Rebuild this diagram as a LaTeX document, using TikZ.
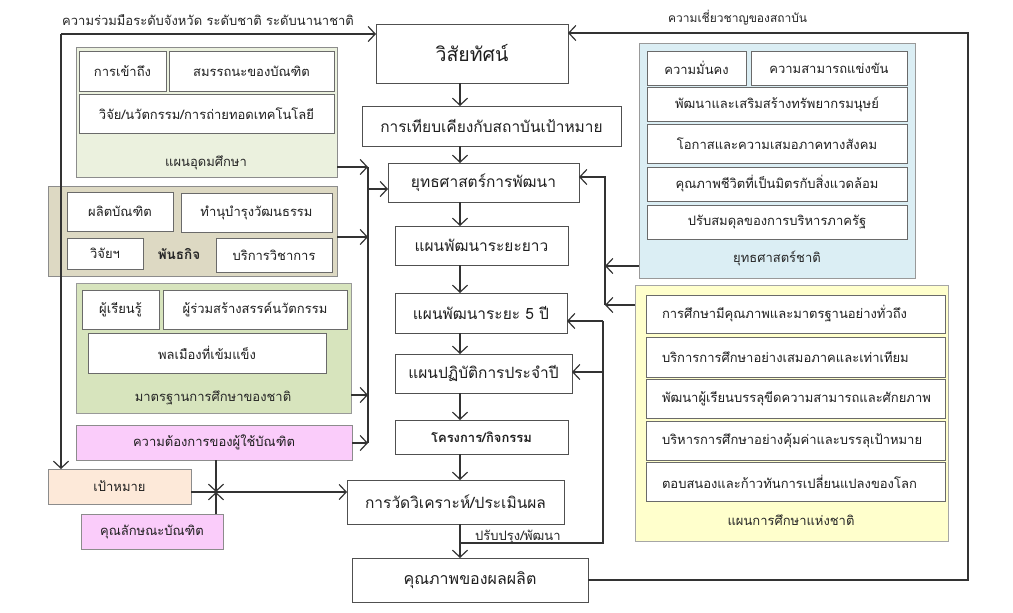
\documentclass[tikz,border=0pt]{standalone}
\usepackage{fontspec}
\setmainfont[Script=Thai]{Loma}
\usetikzlibrary{arrows.meta}
\newcommand\fsz[1]{\fontsize{#1}{#1}\selectfont}
\newcommand\bx[7]{\node[#2, minimum width={(#5-#3)*1pt}, minimum height={(#6-#4)*1pt}] (#1) at ({(#3+#5)/2},{(#4+#6)/2}) {#7};}
\definecolor{ln}{HTML}{333333}
\definecolor{mbd}{HTML}{505050}
\definecolor{gA}{HTML}{EBF1DE}
\definecolor{gB}{HTML}{DDD9C3}
\definecolor{gC}{HTML}{D7E4BD}
\definecolor{pk}{HTML}{FACCFA}
\definecolor{pc}{HTML}{FDE9D9}
\definecolor{bl}{HTML}{DBEEF4}
\definecolor{yl}{HTML}{FFFFCC}
\tikzset{
  base/.style={inner sep=0pt, outer sep=0pt, align=center, text=black!88},
  mbox/.style={base, draw=mbd, fill=white, line width=0.9pt, font=\fsz{15.5}},
  ibox/.style={base, draw=mbd!85, fill=white, line width=0.9pt, font=\fsz{13}},
  pbox/.style={ibox, text width=267pt, align=left, inner xsep=16pt},
  grp/.style={base, line width=1pt},
  glabel/.style={inner sep=0pt, font=\fsz{13}, text=black!85},
  line/.style={draw=ln, line width=1.3pt},
  arr/.style={line, -{Straight Barb[length=7pt,width=15pt,line width=1.2pt]}},
}
\begin{document}
\begin{tikzpicture}[x=1pt,y=-1pt]
\useasboundingbox[fill=white] (0,0) rectangle (1013,613);
% centre column
\bx{vision}{mbox,font=\fsz{19.5}}{376}{24}{568}{83}{วิสัยทัศน์}
\bx{bench}{mbox}{362}{106}{621}{146}{การเทียบเคียงกับสถาบันเป้าหมาย}
\bx{strat}{mbox}{388}{163}{579}{202}{ยุทธศาสตร์การพัฒนา}
\bx{longp}{mbox}{395}{226}{568}{265}{แผนพัฒนาระยะยาว}
\bx{fivep}{mbox}{395}{293}{567}{333}{แผนพัฒนาระยะ 5 ปี}
\bx{annual}{mbox}{395}{354}{572}{393}{แผนปฏิบัติการประจำปี}
\bx{proj}{mbox,font=\bfseries\fsz{13}}{395}{420}{568}{454}{โครงการ/กิจกรรม}
\bx{evalu}{mbox}{347}{480}{564}{524}{การวัดวิเคราะห์/ประเมินผล}
\bx{quality}{mbox,font=\fsz{16}}{352}{558}{588}{602}{คุณภาพของผลผลิต}
% left group A
\bx{gA}{grp,draw=black!45,fill=gA}{76}{47}{337}{177}{}
\bx{a1}{ibox}{79}{51}{166}{91}{การเข้าถึง}
\bx{a2}{ibox}{169}{51}{334}{91}{สมรรถนะของบัณฑิต}
\bx{a3}{ibox}{79}{94}{334}{133}{วิจัย/นวัตกรรม/การถ่ายทอดเทคโนโลยี}
\node[glabel] (gAl) at (206,163) {แผนอุดมศึกษา};
% left group B
\bx{gB}{grp,draw=black!45,fill=gB}{48}{186}{337}{276}{}
\bx{b1}{ibox}{67}{192}{173}{231}{ผลิตบัณฑิต}
\bx{b2}{ibox}{181}{193}{332}{232}{ทำนุบำรุงวัฒนธรรม}
\bx{b3}{ibox}{67}{238}{143}{269}{วิจัยฯ}
\bx{b4}{ibox}{216}{238}{332}{272}{บริการวิชาการ}
\node[glabel,font=\bfseries\fsz{13.5}] (gBl) at (179,254) {พันธกิจ};
% left group C
\bx{gC}{grp,draw=black!40,fill=gC}{76}{283}{351}{413}{}
\bx{c1}{ibox}{82}{290}{159}{329}{ผู้เรียนรู้}
\bx{c2}{ibox}{163}{290}{347}{329}{ผู้ร่วมสร้างสรรค์นวัตกรรม}
\bx{c3}{ibox}{88}{333}{326}{373}{พลเมืองที่เข้มแข็ง}
\node[glabel] (gCl) at (213,398) {มาตรฐานการศึกษาของชาติ};
% left small boxes
\bx{need}{grp,draw=black!45,fill=pk,font=\fsz{13}}{76}{425}{352}{460}{ความต้องการของผู้ใช้บัณฑิต}
\bx{goal}{grp,draw=black!45,fill=pc,font=\fsz{13}}{48}{469}{191}{504}{เป้าหมาย}
\bx{trait}{grp,draw=black!45,fill=pk,font=\fsz{13}}{81}{514}{223}{549}{คุณลักษณะบัณฑิต}
% right group: national strategy
\bx{gN}{grp,draw=black!40,fill=bl}{639}{43}{915}{278}{}
\bx{n1}{ibox}{647}{51}{746}{85}{ความมั่นคง}
\bx{n2}{ibox}{751}{51}{907}{85}{ความสามารถแข่งขัน}
\bx{n3}{ibox}{647}{87}{907}{121}{พัฒนาและเสริมสร้างทรัพยากรมนุษย์}
\bx{n4}{ibox}{647}{124}{907}{163}{โอกาสและความเสมอภาคทางสังคม}
\bx{n5}{ibox}{647}{167}{907}{201}{คุณภาพชีวิตที่เป็นมิตรกับสิ่งแวดล้อม}
\bx{n6}{ibox}{647}{205}{907}{239}{ปรับสมดุลของการบริหารภาครัฐ}
\node[glabel] (gNl) at (777,258) {ยุทธศาสตร์ชาติ};
% right group: national education plan
\bx{gP}{grp,draw=black!35,fill=yl}{635}{285}{948}{541}{}
\bx{p1}{pbox}{646}{295}{945}{333}{การศึกษามีคุณภาพและมาตรฐานอย่างทั่วถึง}
\bx{p2}{pbox}{646}{337}{945}{377}{บริการการศึกษาอย่างเสมอภาคและเท่าเทียม}
\bx{p3}{pbox}{646}{379}{945}{418}{พัฒนาผู้เรียนบรรลุขีดความสามารถและศักยภาพ}
\bx{p4}{pbox}{646}{421}{945}{460}{บริหารการศึกษาอย่างคุ้มค่าและบรรลุเป้าหมาย}
\bx{p5}{pbox}{646}{462}{945}{501}{ตอบสนองและก้าวทันการเปลี่ยนแปลงของโลก}
\node[glabel] (gPl) at (791,520) {แผนการศึกษาแห่งชาติ};
% labels
\node[glabel,anchor=west] (lcoop) at (62,20) {ความร่วมมือระดับจังหวัด ระดับชาติ ระดับนานาชาติ};
\node[glabel,anchor=west,font=\fsz{12}] (lexp) at (668,18) {ความเชี่ยวชาญของสถาบัน};
\node[glabel,anchor=west] (limp) at (475,537) {ปรับปรุง/พัฒนา};
% coordinates
\coordinate (cx) at (460,0);
\coordinate (tl) at (61,34);
\coordinate (tr) at (968,33);
\coordinate (br) at (968,580);
\coordinate (lv) at (368,167);
\coordinate (rv) at (605,177);
\coordinate (fb) at (603,543);
\coordinate (j) at (216,492);
% connectors
\draw[arr] (tl) -- (vision.west |- tl);
\draw[arr] (tl) -- (goal.north -| tl);
\draw[arr] (quality.east) -- (br) -- (tr) -- (vision.east |- tr);
\draw[arr] (vision.south -| cx) -- (bench.north -| cx);
\draw[arr] (bench.south -| cx) -- (strat.north -| cx);
\draw[arr] (strat.south -| cx) -- (longp.north -| cx);
\draw[arr] (longp.south -| cx) -- (fivep.north -| cx);
\draw[arr] (fivep.south -| cx) -- (annual.north -| cx);
\draw[arr] (annual.south -| cx) -- (proj.north -| cx);
\draw[arr] (proj.south -| cx) -- (evalu.north -| cx);
\draw[arr] (evalu.south -| cx) -- (quality.north -| cx);
% feedback loop
\draw[line] (fb -| cx) -- (fb) -- (fb |- 0,321);
\draw[arr] (fb |- 0,321) -- (fivep.east |- 0,321);
\draw[arr] (fb |- 0,372) -- (annual.east |- 0,372);
% left collector
\draw[line] (lv) -- (lv |- 0,443);
\draw[arr] (gA.east |- lv) -- (lv);
\draw[arr] (gB.east |- 0,237) -- (lv |- 0,237);
\draw[arr] (gC.east |- 0,395) -- (lv |- 0,395);
\draw[arr] (need.east |- 0,443) -- (lv |- 0,443);
\draw[arr] (lv |- 0,189) -- (strat.west |- 0,189);
% right collector
\draw[arr] (rv |- 0,305) -- (rv) -- (strat.east |- rv);
\draw[arr] (gN.west |- 0,266) -- (rv |- 0,266);
\draw[arr] (gP.west |- 0,305) -- (rv |- 0,305);
% junction
\draw[arr] (goal.east |- j) -- (evalu.west |- j);
\draw[arr] (need.south -| j) -- (j);
\draw[arr] (trait.north -| j) -- (j);
\end{tikzpicture}
\end{document}
